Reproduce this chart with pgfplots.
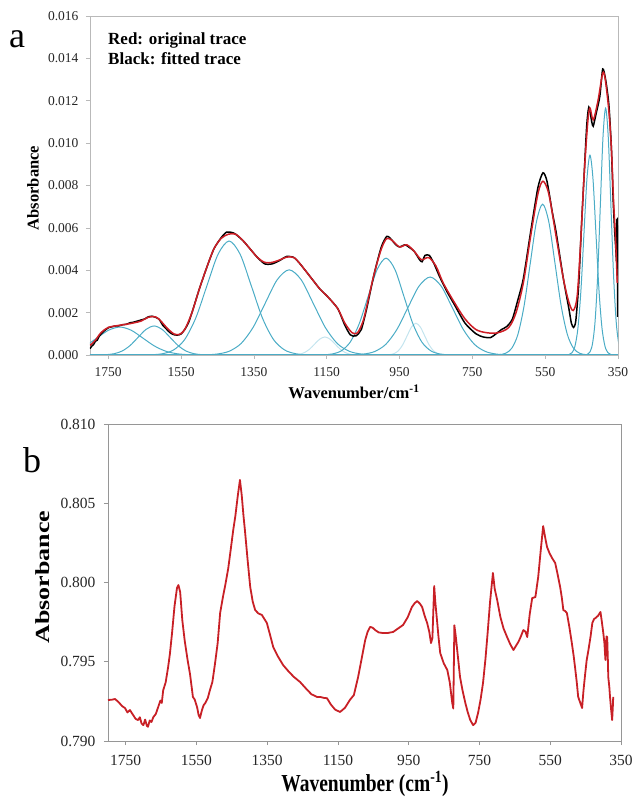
\documentclass[border=0pt]{standalone}
\usepackage{pgfplots}
\pgfplotsset{compat=1.18}
\usepackage{fontspec}
\setmainfont{Liberation Serif}
\usepackage{graphicx}
\definecolor{cy}{RGB}{75,172,198}
\definecolor{cyfaint}{RGB}{195,228,238}
\definecolor{rd}{RGB}{206,30,38}
\definecolor{rd2}{RGB}{200,32,38}
\definecolor{fr}{RGB}{185,185,185}
\definecolor{fr2}{RGB}{150,150,150}
\begin{document}
\begin{tikzpicture}[x=1pt,y=1pt]
\useasboundingbox (0,0) rectangle (632,799);
% ---------------- panel a ----------------
\begin{axis}[at={(90pt,444pt)}, anchor=south west, scale only axis,
  width=528pt, height=339pt,
  xmin=350, xmax=1800, ymin=0, ymax=0.016, x dir=reverse,
  xtick={350,550,750,950,1150,1350,1550,1750},
  ytick={0,0.002,0.004,0.006,0.008,0.010,0.012,0.014,0.016},
  scaled y ticks=false,
  yticklabel style={/pgf/number format/fixed, /pgf/number format/fixed zerofill, /pgf/number format/precision=3, xshift=-4pt},
  xticklabel style={/pgf/number format/set thousands separator={}, yshift=-5pt},
  /pgf/number format/assume math mode=true,
  tick label style={font=\fontsize{13.5}{14}\selectfont, text=black!85},
  axis line style={draw=fr},
  tick style={draw=fr, line width=0.6pt},
  tick align=outside, major tick length=4pt, tick pos=left,
]
% Gaussian components
\addplot[cy, line width=1pt, smooth] coordinates {(1466,0.0000004)(1497.5,0.0000029)(1529,0.0000147)(1560.5,0.000058)(1592,0.000179)(1623.5,0.000429)(1655,0.000801)(1686.5,0.001165)(1718,0.00132)(1749.5,0.001165)(1781,0.000801)(1812.5,0.000429)(1844,0.000179)};
\addplot[cy, line width=1pt, smooth] coordinates {(1448,0.0000004)(1470,0.000003)(1492,0.0000152)(1514,0.00006)(1536,0.000185)(1558,0.000445)(1580,0.000831)(1602,0.001209)(1624,0.00137)(1646,0.001209)(1668,0.000831)(1690,0.000445)(1712,0.000185)(1734,0.00006)(1756,0.0000152)(1778,0.000003)(1800,0.0000004)};
\addplot[cy, line width=1pt, smooth] coordinates {(1174,0.0000016)(1204.5,0.0000118)(1235,0.0000597)(1265.5,0.000236)(1296,0.000728)(1326.5,0.001747)(1357,0.003263)(1387.5,0.004748)(1418,0.00538)(1448.5,0.004748)(1479,0.003263)(1509.5,0.001747)(1540,0.000728)(1570.5,0.000236)(1601,0.0000597)(1631.5,0.0000118)(1662,0.0000016)};
\addplot[cy, line width=1pt, smooth] coordinates {(989,0.0000012)(1022,0.0000088)(1055,0.0000446)(1088,0.000176)(1121,0.000544)(1154,0.001305)(1187,0.002438)(1220,0.003548)(1253,0.00402)(1286,0.003548)(1319,0.002438)(1352,0.001305)(1385,0.000544)(1418,0.000176)(1451,0.0000446)(1484,0.0000088)(1517,0.0000012)};
\addplot[cyfaint, line width=1pt, smooth] coordinates {(1043,0.0000003)(1057,0.0000019)(1071,0.0000094)(1085,0.0000373)(1099,0.000115)(1113,0.000276)(1127,0.000516)(1141,0.00075)(1155,0.00085)(1169,0.00075)(1183,0.000516)(1197,0.000276)(1211,0.000115)(1225,0.0000373)(1239,0.0000094)(1253,0.0000019)(1267,0.0000003)};
\addplot[cyfaint, line width=1pt, smooth] coordinates {(809,0.0000005)(821,0.0000033)(833,0.0000167)(845,0.0000659)(857,0.000203)(869,0.000487)(881,0.00091)(893,0.001324)(905,0.0015)(917,0.001324)(929,0.00091)(941,0.000487)(953,0.000203)(965,0.0000659)(977,0.0000167)(989,0.0000033)(1001,0.0000005)};
\addplot[cy, line width=1pt, smooth] coordinates {(791,0.0000014)(815.5,0.0000101)(840,0.0000507)(864.5,0.000201)(889,0.000618)(913.5,0.001484)(938,0.002772)(962.5,0.004033)(987,0.00457)(1011.5,0.004033)(1036,0.002772)(1060.5,0.001484)(1085,0.000618)(1109.5,0.000201)(1134,0.0000507)(1158.5,0.0000101)(1183,0.0000014)};
\addplot[cy, line width=1pt, smooth] coordinates {(622,0.0000011)(652.5,0.0000081)(683,0.0000408)(713.5,0.000162)(744,0.000498)(774.5,0.001195)(805,0.002232)(835.5,0.003248)(866,0.00368)(896.5,0.003248)(927,0.002232)(957.5,0.001195)(988,0.000498)(1018.5,0.000162)(1049,0.0000408)(1079.5,0.0000081)(1110,0.0000011)};
\addplot[cy, line width=1pt, smooth] coordinates {(421,0.0000021)(438,0.0000157)(455,0.000079)(472,0.000313)(489,0.000963)(506,0.002312)(523,0.004318)(540,0.006283)(557,0.00712)(574,0.006283)(591,0.004318)(608,0.002312)(625,0.000963)(642,0.000313)(659,0.000079)(676,0.0000157)(693,0.0000021)};
\addplot[cy, line width=1pt, smooth] coordinates {(361,0.0000028)(369.25,0.0000207)(377.5,0.000105)(385.75,0.000414)(394,0.001276)(402.25,0.003062)(410.5,0.005719)(418.75,0.008322)(427,0.00943)(435.25,0.008322)(443.5,0.005719)(451.75,0.003062)(460,0.001276)(468.25,0.000414)(476.5,0.000105)(484.75,0.0000207)(493,0.0000028)};
\addplot[cy, line width=1pt, smooth] coordinates {(326,0.0000035)(333.25,0.0000256)(340.5,0.000129)(347.75,0.000511)(355,0.001576)(362.25,0.003783)(369.5,0.007066)(376.75,0.010281)(384,0.01165)(391.25,0.010281)(398.5,0.007066)(405.75,0.003783)(413,0.001576)(420.25,0.000511)(427.5,0.000129)(434.75,0.0000256)(442,0.0000035)};
\addplot[cy, line width=1pt] coordinates {(1800,0)(350,0)};
% fitted trace (black)
\addplot[black, line width=1.5pt, smooth, tension=0.4] coordinates {(1800,0.0003)(1795,0.00042)(1790,0.0005)(1785,0.00065)(1780,0.0007)(1775,0.00088)(1770,0.00098)(1762,0.00112)(1755,0.00122)(1748,0.0013)(1740,0.00133)(1730,0.00137)(1720,0.00138)(1710,0.00143)(1700,0.00145)(1690,0.00152)(1680,0.00155)(1670,0.0016)(1660,0.00165)(1650,0.0017)(1640,0.0018)(1630,0.00183)(1620,0.00178)(1610,0.00168)(1600,0.0014)(1590,0.00122)(1580,0.00105)(1570,0.00096)(1560,0.00094)(1550,0.00099)(1540,0.0012)(1530,0.0015)(1520,0.0020)(1500,0.0031)(1480,0.0041)(1460,0.0050)(1440,0.00553)(1425,0.0058)(1410,0.00578)(1400,0.0057)(1380,0.0054)(1360,0.005)(1340,0.0046)(1320,0.0043)(1300,0.0043)(1280,0.00445)(1260,0.00465)(1240,0.0046)(1223,0.0043)(1200,0.0038)(1168,0.0031)(1150,0.0028)(1120,0.0022)(1100,0.0014)(1085,0.00095)(1070,0.0009)(1055,0.0012)(1040,0.0022)(1020,0.0038)(1000,0.0051)(985,0.0056)(975,0.0055)(960,0.0052)(950,0.0051)(935,0.0052)(925,0.0051)(910,0.0049)(895,0.0045)(888,0.0044)(880,0.0047)(868,0.0047)(855,0.0043)(840,0.0037)(820,0.0030)(800,0.0024)(770,0.0015)(740,0.001)(720,0.00085)(700,0.00082)(685,0.001)(670,0.0012)(655,0.00135)(640,0.0017)(625,0.0026)(610,0.0036)(590,0.0058)(570,0.0079)(556,0.0086)(545,0.0082)(530,0.0067)(520,0.0058)(500,0.0036)(485,0.0022)(478,0.0015)(472,0.0013)(466,0.0016)(458,0.0033)(450,0.0062)(443,0.0085)(436,0.0108)(430,0.0117)(422,0.0110)(418,0.0108)(410,0.0114)(400,0.0122)(392,0.0135)(384,0.0130)(375,0.0118)(368,0.0097)(363,0.0072)(359,0.0058)(356,0.0050)(354,0.0045)(353,0.0063)(352,0.0060)(351,0.0018)};
% original trace (red)
\addplot[rd, line width=1.5pt, smooth] coordinates {(1800,0.00045)(1785,0.0007)(1770,0.00105)(1750,0.0013)(1720,0.0014)(1690,0.00148)(1660,0.0016)(1640,0.00178)(1620,0.0018)(1605,0.0016)(1590,0.0013)(1570,0.001)(1555,0.00097)(1540,0.0012)(1520,0.002)(1500,0.0031)(1480,0.0041)(1460,0.0050)(1440,0.0055)(1420,0.0057)(1400,0.0057)(1380,0.0054)(1360,0.0050)(1340,0.0046)(1320,0.00437)(1300,0.00437)(1280,0.00448)(1260,0.00462)(1240,0.0046)(1223,0.0043)(1200,0.0038)(1168,0.0031)(1150,0.0028)(1120,0.0022)(1100,0.0015)(1080,0.00105)(1065,0.00105)(1050,0.0016)(1040,0.0023)(1020,0.0038)(1000,0.0050)(985,0.0055)(970,0.0054)(950,0.0051)(930,0.0052)(910,0.0049)(890,0.0045)(870,0.0046)(850,0.0042)(830,0.0034)(800,0.0025)(770,0.0017)(740,0.0012)(710,0.00105)(680,0.00105)(650,0.0013)(630,0.002)(610,0.0034)(590,0.0056)(570,0.0076)(556,0.0082)(540,0.0076)(520,0.0056)(500,0.0036)(485,0.0025)(473,0.0021)(462,0.0028)(452,0.0055)(443,0.0085)(433,0.011)(427,0.01165)(418,0.0111)(405,0.0120)(392,0.0133)(385,0.0130)(375,0.0115)(368,0.0097)(362,0.0072)(357,0.0056)(352,0.0034)};
\end{axis}
% ---------------- panel b ----------------
\begin{axis}[at={(108pt,58pt)}, anchor=south west, scale only axis,
  width=513pt, height=317pt,
  xmin=350, xmax=1800, ymin=0.79, ymax=0.81, x dir=reverse,
  xtick={350,550,750,950,1150,1350,1550,1750},
  ytick={0.79,0.795,0.8,0.805,0.81},
  scaled y ticks=false,
  yticklabel style={/pgf/number format/fixed, /pgf/number format/fixed zerofill, /pgf/number format/precision=3, xshift=-5pt},
  xticklabel style={/pgf/number format/set thousands separator={}, yshift=-7pt},
  /pgf/number format/assume math mode=true,
  tick label style={font=\fontsize{15.5}{16}\selectfont, text=black!85},
  axis line style={draw=fr2},
  tick style={draw=fr2, line width=0.6pt},
  tick align=outside, major tick length=4pt, tick pos=left,
]
\addplot[rd2, line width=1.8pt, line join=round] coordinates {(1800,0.79259)(1790,0.7926)(1780,0.79265)(1770,0.79245)(1760,0.7922)(1752,0.79208)(1745,0.7918)(1738,0.79195)(1729,0.79164)(1722,0.7914)(1715,0.79132)(1710,0.7915)(1705,0.7911)(1700,0.791)(1695,0.79135)(1690,0.79095)(1687,0.7909)(1682,0.7913)(1677,0.7912)(1672,0.7915)(1665,0.7917)(1658,0.79215)(1652,0.79255)(1648,0.7924)(1644,0.7932)(1637,0.7937)(1630,0.79467)(1625,0.7955)(1619,0.7968)(1612,0.7985)(1605,0.79965)(1601,0.79984)(1596,0.7994)(1590,0.79763)(1583,0.7963)(1575,0.79511)(1568,0.7942)(1560,0.79278)(1555,0.79262)(1548,0.79212)(1544,0.79165)(1540,0.79145)(1535,0.7919)(1530,0.79225)(1525,0.7924)(1518,0.7927)(1512,0.7932)(1505,0.79372)(1498,0.7948)(1490,0.79618)(1483,0.79808)(1475,0.7991)(1468,0.7999)(1460,0.80091)(1453,0.8021)(1446,0.80331)(1440,0.8042)(1433,0.8055)(1427,0.80647)(1422,0.8055)(1417,0.8042)(1413,0.8033)(1405,0.80133)(1398,0.79972)(1391,0.7988)(1384,0.79826)(1375,0.79805)(1365,0.79795)(1358,0.7977)(1351,0.79745)(1342,0.7967)(1333,0.79593)(1320,0.79535)(1305,0.79479)(1290,0.7944)(1275,0.79405)(1257,0.79372)(1240,0.7933)(1225,0.79295)(1209,0.79278)(1200,0.79278)(1190,0.79272)(1181,0.7927)(1170,0.7923)(1158,0.79198)(1144,0.79183)(1130,0.7921)(1116,0.7926)(1105,0.7929)(1093,0.79404)(1083,0.7952)(1073,0.79637)(1066,0.7969)(1059,0.7972)(1052,0.79715)(1045,0.797)(1035,0.79685)(1022,0.79681)(1008,0.79682)(994,0.79688)(980,0.7971)(966,0.79732)(953,0.7978)(941,0.79845)(933,0.7987)(926,0.79883)(919,0.79868)(912,0.79845)(905,0.7979)(898,0.79745)(892,0.7969)(887,0.79618)(883,0.7965)(880,0.7985)(878,0.79978)(875,0.7988)(870,0.7976)(866,0.7966)(861,0.79555)(851,0.7949)(841,0.79448)(834,0.7937)(827,0.7924)(824,0.79205)(821,0.7973)(817,0.7966)(813,0.79574)(809,0.7949)(805,0.79404)(798,0.7932)(790,0.7924)(783,0.7918)(776,0.79132)(768,0.791)(761,0.79115)(754,0.79177)(747,0.7926)(740,0.79366)(733,0.7952)(727,0.79681)(720,0.7988)(712,0.8006)(707,0.7996)(700,0.7989)(691,0.79783)(682,0.7971)(672,0.79656)(663,0.7961)(654,0.79574)(647,0.796)(640,0.79625)(633,0.7966)(626,0.797)(620,0.7969)(615,0.79656)(608,0.7980)(601,0.79902)(592,0.79908)(584,0.80035)(577,0.8020)(570,0.80356)(564,0.8028)(559,0.80224)(552,0.80185)(545,0.80155)(536,0.80123)(529,0.8005)(522,0.79972)(517,0.7990)(513,0.79826)(508,0.7982)(503,0.79808)(496,0.7972)(489,0.79618)(484,0.7954)(480,0.79467)(475,0.7937)(471,0.79278)(465,0.7924)(460,0.79208)(456,0.7932)(451,0.79429)(447,0.7951)(442,0.79574)(436,0.7966)(431,0.79745)(426,0.7977)(422,0.79776)(415,0.7979)(408,0.79814)(404,0.7975)(400,0.79681)(397,0.7962)(394,0.79511)(391,0.7966)(389,0.79656)(387,0.7950)(386,0.79404)(383,0.7934)(381,0.79278)(378,0.7920)(375,0.79132)(373,0.7922)(372,0.79278)};
\end{axis}
% ---------------- texts ----------------
\node[anchor=base, font=\fontsize{36}{36}\selectfont] at (17,751) {a};
\node[anchor=base, font=\fontsize{36}{36}\selectfont] at (32,326) {b};
\node[anchor=base west, inner sep=0pt, font=\bfseries\fontsize{17}{17}\selectfont] at (108,754) {Red: original trace};
\node[anchor=base west, inner sep=0pt, font=\bfseries\fontsize{17}{17}\selectfont] at (108,734.5) {Black: fitted trace};
\node[rotate=90, inner sep=0pt, font=\bfseries\fontsize{16.5}{17}\selectfont] at (33,611) {Absorbance};
\node[anchor=base, inner sep=0pt, font=\bfseries\fontsize{16.5}{17}\selectfont] at (354,400) {Wavenumber/cm\textsuperscript{-1}};
\node[rotate=90, inner sep=0pt, font=\bfseries\fontsize{20}{21}\selectfont] at (43,222) {\scalebox{1.3}[1]{Absorbance}};
\node[anchor=base, inner sep=0pt, font=\bfseries\fontsize{19.5}{20}\selectfont] at (365,7) {\scalebox{1}[1.25]{Wavenumber (cm\textsuperscript{-1})}};
\end{tikzpicture}
\end{document}
